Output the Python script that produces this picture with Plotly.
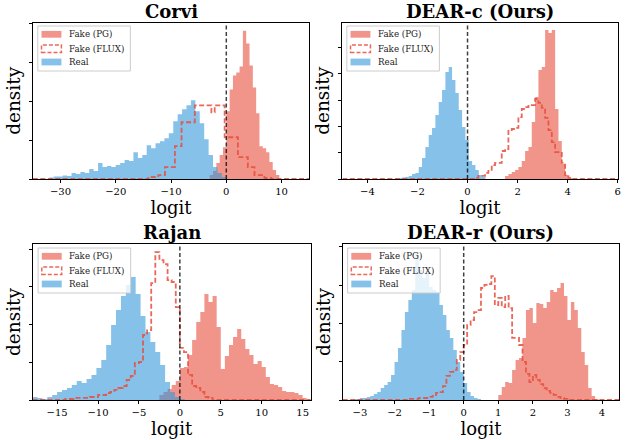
import plotly.graph_objects as go

# ---------------- data (density per bin) ----------------
# Corvi
corvi_real_start, corvi_real_width = -32.0, 0.8
corvi_real = [0.0019, 0.0032, 0.0032, 0.0045, 0.0038, 0.0077, 0.0064, 0.0090, 0.0077, 0.0128,
              0.0103, 0.0205, 0.0154, 0.0167, 0.0154, 0.0179, 0.0205, 0.0244, 0.0231, 0.0346,
              0.0269, 0.0308, 0.0436, 0.0397, 0.0462, 0.0487, 0.0526, 0.0590, 0.0744, 0.0833,
              0.0897, 0.0949, 0.1013, 0.0872, 0.0718, 0.0513, 0.0308, 0.0154, 0.0077, 0.0026]
corvi_pg_start, corvi_pg_width = -3.0, 0.6
corvi_pg = [0.0051, 0.0103, 0.0205, 0.0308, 0.0410, 0.0872, 0.1154, 0.1333, 0.1372, 0.1449,
            0.1910, 0.1744, 0.1462, 0.1179, 0.0846, 0.0423, 0.0397, 0.0346, 0.0218, 0.0115, 0.0051]
corvi_flux_start, corvi_flux_width = -14.1, 0.6
corvi_flux = [0.0026, 0.0026, 0.0038, 0.0051, 0.0051, 0.0154, 0.0154, 0.0154, 0.0423, 0.0423,
              0.0731, 0.0731, 0.0731, 0.0731, 0.0949, 0.0949, 0.0949, 0.0949, 0.0949, 0.0859,
              0.0949, 0.0949, 0.0949, 0.0538, 0.0538, 0.0538, 0.0538, 0.0282, 0.0282, 0.0282,
              0.0154, 0.0154, 0.0051, 0.0051, 0.0051, 0.0013, 0.0013]

# DEAR-c (Ours)
dearc_real_start, dearc_real_width = -2.75, 0.1333
dearc_real = [0.008, 0.011, 0.015, 0.023, 0.038, 0.046, 0.091, 0.160, 0.243, 0.335,
              0.388, 0.487, 0.586, 0.677, 0.814, 0.852, 0.753, 0.654, 0.525, 0.395,
              0.297, 0.137, 0.106, 0.068, 0.030, 0.015]
dearc_pg_start, dearc_pg_width = 1.5, 0.1333
dearc_pg = [0.023, 0.038, 0.053, 0.068, 0.091, 0.137, 0.213, 0.243, 0.433, 0.623,
            0.829, 0.852, 1.133, 1.110, 1.133, 0.532, 0.289, 0.114, 0.030, 0.008]
dearc_flux_start, dearc_flux_width = 0.3, 0.1333
dearc_flux = [0.008, 0.023, 0.023, 0.046, 0.061, 0.106, 0.122, 0.122, 0.213, 0.228,
              0.365, 0.380, 0.388, 0.471, 0.532, 0.547, 0.555, 0.562, 0.608, 0.578,
              0.540, 0.464, 0.372, 0.281, 0.205, 0.205, 0.122, 0.030, 0.008]

# Rajan
rajan_real_start, rajan_real_width = -18.0, 0.6
rajan_real = [0.0040, 0.0027, 0.0013, 0.0040, 0.0066, 0.0106, 0.0133, 0.0159, 0.0199, 0.0252,
              0.0225, 0.0278, 0.0332, 0.0424, 0.0530, 0.0729, 0.0995, 0.1193, 0.1379, 0.1525,
              0.1631, 0.1406, 0.1114, 0.0902, 0.0769, 0.0636, 0.0464, 0.0239, 0.0106, 0.0040, 0.0013]
rajan_pg_start, rajan_pg_width = -2.5, 0.5
rajan_pg = [0.0066, 0.0106, 0.0146, 0.0199, 0.0252, 0.0424, 0.0438, 0.0597, 0.0796, 0.1034,
            0.1167, 0.1406, 0.1299, 0.1379, 0.0968, 0.0411, 0.0583, 0.0729, 0.0835, 0.0941,
            0.0809, 0.0676, 0.0597, 0.0477, 0.0517, 0.0438, 0.0305, 0.0212, 0.0199, 0.0172,
            0.0119, 0.0106, 0.0106, 0.0093, 0.0066, 0.0027]
rajan_flux_start, rajan_flux_width = -14.0, 0.5
rajan_flux = [0.0013, 0.0013, 0.0027, 0.0027, 0.0027, 0.0027, 0.0040, 0.0040, 0.0066, 0.0066,
              0.0093, 0.0106, 0.0133, 0.0159, 0.0186, 0.0265, 0.0318, 0.0491, 0.0504, 0.0862,
              0.0928, 0.1551, 0.1962, 0.1856, 0.1803, 0.1591, 0.1565, 0.1233, 0.0690, 0.0636,
              0.0332, 0.0186, 0.0159, 0.0106, 0.0040, 0.0027]

# DEAR-r (Ours)
dearr_real_start, dearr_real_width = -3.2, 0.1
dearr_real = [0.0065, 0.0065, 0.0131, 0.0131, 0.0196, 0.0261, 0.0392, 0.0522, 0.0783, 0.0979,
              0.1175, 0.163, 0.248, 0.339, 0.457, 0.574, 0.653, 0.718, 0.959, 0.849,
              0.796, 0.849, 0.738, 0.718, 0.705, 0.620, 0.555, 0.457, 0.405, 0.326,
              0.248, 0.183, 0.111, 0.052, 0.026, 0.013, 0.0065]
dearr_pg_start, dearr_pg_width = 1.0, 0.1
dearr_pg = [0.033, 0.085, 0.117, 0.111, 0.196, 0.261, 0.274, 0.405, 0.587, 0.600,
            0.503, 0.633, 0.627, 0.600, 0.640, 0.718, 0.705, 0.731, 0.764, 0.679,
            0.522, 0.640, 0.587, 0.470, 0.313, 0.228, 0.078, 0.026, 0.0065]
dearr_flux_start, dearr_flux_width = -1.6, 0.1
dearr_flux = [0.007, 0.007, 0.007, 0.013, 0.013, 0.013, 0.020, 0.026, 0.046, 0.052,
              0.091, 0.157, 0.183, 0.196, 0.261, 0.313, 0.359, 0.490, 0.522, 0.574,
              0.587, 0.731, 0.751, 0.757, 0.809, 0.620, 0.666, 0.607, 0.679, 0.600,
              0.405, 0.405, 0.359, 0.248, 0.170, 0.117, 0.163, 0.131, 0.104, 0.078,
              0.059, 0.046, 0.033, 0.020, 0.013, 0.007]

titles = ["Corvi", "DEAR-c (Ours)", "Rajan", "DEAR-r (Ours)"]
series_names = ["Fake (PG)", "Fake (FLUX)", "Real"]
x_label, y_label = "logit", "density"
x_ranges = [[-35, 15], [-5, 6], [-18, 16], [-3.5, 4.5]]
x_dticks = [10, 2, 5, 1]
y_dticks = [0.05, 0.2, 0.05, 0.25]
y_tops = [0.2013, 1.188, 0.2069, 1.018]

# ---------------- styling / layout ----------------
W, H = 627, 440
SERIF = "DejaVu Serif"
PG_COLOR = "rgba(231,76,60,0.6)"
REAL_COLOR = "rgba(52,152,219,0.6)"
FLUX_COLOR = "rgba(231,76,60,0.85)"

# plot-area boxes in pixels (left, right, top, bottom)
boxes = [(33, 310.7, 22.7, 179), (344, 620.7, 22.7, 179),
         (32.7, 312.3, 244, 400), (344.3, 622.3, 244, 400)]
# legend box top-left corners in pixels
legend_pos = [(38, 26), (348.5, 26), (38.3, 248), (349.3, 248)]
LEG_W, LEG_H = 93, 45

panels = [
    dict(pg=(corvi_pg_start, corvi_pg_width, corvi_pg),
         flux=(corvi_flux_start, corvi_flux_width, corvi_flux),
         real=(corvi_real_start, corvi_real_width, corvi_real)),
    dict(pg=(dearc_pg_start, dearc_pg_width, dearc_pg),
         flux=(dearc_flux_start, dearc_flux_width, dearc_flux),
         real=(dearc_real_start, dearc_real_width, dearc_real)),
    dict(pg=(rajan_pg_start, rajan_pg_width, rajan_pg),
         flux=(rajan_flux_start, rajan_flux_width, rajan_flux),
         real=(rajan_real_start, rajan_real_width, rajan_real)),
    dict(pg=(dearr_pg_start, dearr_pg_width, dearr_pg),
         flux=(dearr_flux_start, dearr_flux_width, dearr_flux),
         real=(dearr_real_start, dearr_real_width, dearr_real)),
]


def edges(start, width, vals):
    return [start + width * i for i in range(len(vals) + 1)]


def px(x):
    return x / W


def py(y):
    return 1 - y / H


fig = go.Figure()
layout = dict(width=W, height=H, autosize=False,
              margin=dict(l=0, r=0, t=0, b=0),
              paper_bgcolor="white", plot_bgcolor="white",
              showlegend=False,
              font=dict(family=SERIF, color="black"))
annotations = []
shapes = []

for k, p in enumerate(panels):
    sfx = "" if k == 0 else str(k + 1)
    xa, ya = "x" + sfx, "y" + sfx
    l, r, t, b = boxes[k]
    xmin, xmax = x_ranges[k]

    # filled histograms (step areas)
    for key, color, nm in (("pg", PG_COLOR, series_names[0]), ("real", REAL_COLOR, series_names[2])):
        s, w, v = p[key]
        e = edges(s, w, v)
        fig.add_trace(go.Scatter(x=[e[0]] + e, y=[0] + list(v) + [0], mode="lines", name=nm,
                                 line=dict(width=0, shape="hv"), fill="tozeroy",
                                 fillcolor=color, xaxis=xa, yaxis=ya, hoverinfo="skip"))
    # outlined step histogram (FLUX)
    s, w, v = p["flux"]
    fx = [xmin] + edges(s, w, v) + [xmax]
    fy = [0] + list(v) + [0, 0]
    fig.add_trace(go.Scatter(x=fx, y=fy, mode="lines", name=series_names[1],
                             line=dict(color=FLUX_COLOR, width=1.8, dash="5px,2.5px", shape="hv"),
                             xaxis=xa, yaxis=ya))

    axis_common = dict(showgrid=False, zeroline=False, showline=True, mirror=True,
                       linecolor="black", linewidth=1, ticks="outside", ticklen=3,
                       tickwidth=1, tickcolor="black")
    layout["xaxis" + sfx] = dict(axis_common, domain=[px(l), px(r)], range=[xmin, xmax],
                                 dtick=x_dticks[k], tick0=0, anchor=ya,
                                 tickfont=dict(family=SERIF, size=10, color="black"),
                                 title=dict(text=x_label, standoff=0,
                                            font=dict(family=SERIF, size=18, color="black")))
    layout["yaxis" + sfx] = dict(axis_common, domain=[py(b), py(t)],
                                 range=[0, y_tops[k]], dtick=y_dticks[k], tick0=0,
                                 anchor=xa, showticklabels=False,
                                 title=dict(text=y_label, standoff=3,
                                            font=dict(family=SERIF, size=18.5, color="black")))
    # panel title
    annotations.append(dict(text="<b>%s</b>" % titles[k], xref="paper", yref="paper",
                            x=px((l + r) / 2), y=py(t), xanchor="center", yanchor="bottom",
                            showarrow=False, font=dict(family=SERIF, size=18, color="black"),
                            yshift=-1))
    # dashed decision line at logit = 0
    shapes.append(dict(type="line", xref=xa, yref=ya + " domain", x0=0, x1=0, y0=0, y1=1,
                       line=dict(color="rgba(0,0,0,0.75)", width=1.5, dash="4px,2.5px"),
                       layer="above"))

    # legend (matplotlib style box inside the axes)
    lx, ly = legend_pos[k]
    shapes.append(dict(type="rect", xref="paper", yref="paper",
                       x0=px(lx), x1=px(lx + LEG_W), y0=py(ly + LEG_H), y1=py(ly),
                       fillcolor="rgba(255,255,255,0.8)", line=dict(color="#cccccc", width=1),
                       layer="above"))
    rows = [(series_names[0], 8.3), (series_names[1], 22.8), (series_names[2], 36.0)]
    for j, (nm, yc) in enumerate(rows):
        x0, x1 = px(lx + 3.7), px(lx + 23.7)
        y0, y1 = py(ly + yc + 3.4), py(ly + yc - 3.4)
        if j == 0:
            shapes.append(dict(type="rect", xref="paper", yref="paper", x0=x0, x1=x1, y0=y0, y1=y1,
                               fillcolor=PG_COLOR, line=dict(width=0), layer="above"))
        elif j == 1:
            shapes.append(dict(type="rect", xref="paper", yref="paper", x0=x0, x1=x1,
                               y0=py(ly + yc + 3.8), y1=py(ly + yc - 3.8),
                               fillcolor="rgba(0,0,0,0)",
                               line=dict(color=FLUX_COLOR, width=1.5, dash="4px,2px"),
                               layer="above"))
        else:
            shapes.append(dict(type="rect", xref="paper", yref="paper", x0=x0, x1=x1, y0=y0, y1=y1,
                               fillcolor=REAL_COLOR, line=dict(width=0), layer="above"))
        annotations.append(dict(text=nm, xref="paper", yref="paper", x=px(lx + 29.5), y=py(ly + yc),
                                xanchor="left", yanchor="middle", showarrow=False,
                                font=dict(family=SERIF, size=8.7, color="#222222")))

layout["annotations"] = annotations
layout["shapes"] = shapes
fig.update_layout(**layout)
fig.write_html("out.html", config={"displayModeBar": False},
               post_script="document.body.style.margin='0';document.body.style.overflow='hidden';")
